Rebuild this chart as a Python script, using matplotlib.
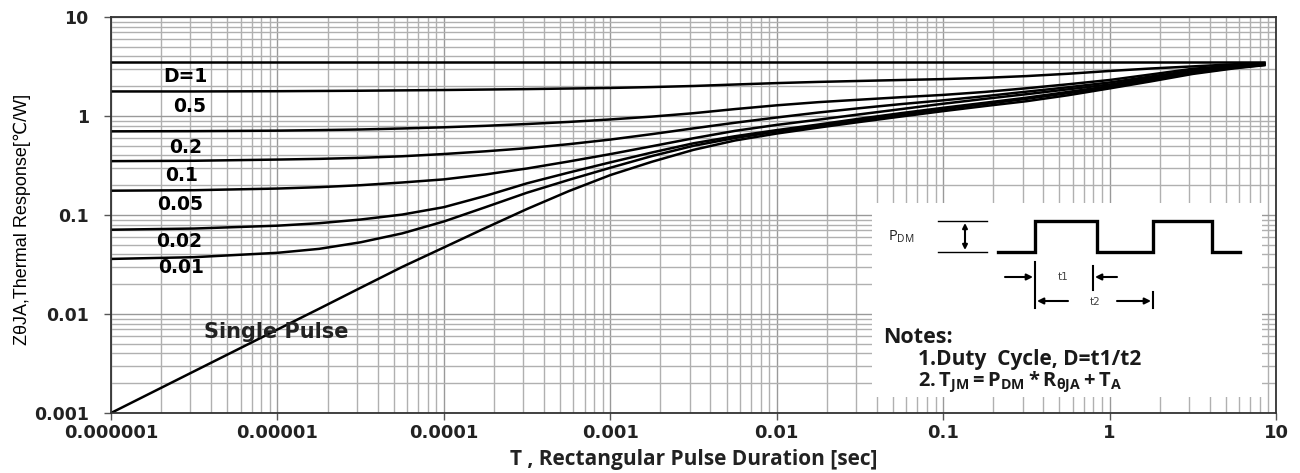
import matplotlib.pyplot as plt
from matplotlib.ticker import FixedLocator, LogLocator, NullFormatter

# pulse duration sample points (sec)
T_SEC = [1e-6, 3.16e-6, 1e-5, 1.78e-5, 3.16e-5, 5.62e-5, 1e-4, 1.78e-4, 3.16e-4,
         5.62e-4, 1e-3, 1.78e-3, 3.16e-3, 5.62e-3, 1e-2, 1.78e-2, 3.16e-2, 5.62e-2,
         0.1, 0.178, 0.316, 0.562, 1, 1.78, 3.16, 5.62, 8.5]

# thermal response (C/W)
Z_D1 = [3.5, 3.5, 3.5, 3.5, 3.5, 3.5, 3.5, 3.5, 3.5, 3.5, 3.5, 3.5, 3.5, 3.5,
        3.5, 3.5, 3.5, 3.5, 3.5, 3.5, 3.5, 3.5, 3.5, 3.5, 3.5, 3.5, 3.5]
Z_D05 = [1.77, 1.77, 1.78, 1.79, 1.80, 1.815, 1.83, 1.85, 1.87, 1.895, 1.92, 1.96,
         2.01, 2.08, 2.15, 2.21, 2.26, 2.31, 2.36, 2.43, 2.53, 2.67, 2.85, 3.02,
         3.17, 3.33, 3.42]
Z_D02 = [0.70, 0.703, 0.711, 0.72, 0.731, 0.748, 0.769, 0.796, 0.83, 0.871, 0.923, 0.986,
         1.067, 1.175, 1.282, 1.38, 1.462, 1.549, 1.633, 1.75, 1.905, 2.09, 2.31, 2.63,
         3.00, 3.24, 3.38]
Z_D01 = [0.35, 0.353, 0.363, 0.369, 0.378, 0.392, 0.413, 0.44, 0.473, 0.519, 0.578, 0.656,
         0.75, 0.855, 0.966, 1.084, 1.20, 1.32, 1.44, 1.585, 1.76, 1.95, 2.18, 2.51,
         2.88, 3.18, 3.35]
Z_D005 = [0.176, 0.178, 0.185, 0.191, 0.20, 0.213, 0.229, 0.257, 0.295, 0.347, 0.412, 0.495,
          0.596, 0.708, 0.813, 0.918, 1.04, 1.175, 1.33, 1.49, 1.66, 1.86, 2.08, 2.43,
          2.82, 3.13, 3.32]
Z_D002 = [0.071, 0.073, 0.078, 0.0826, 0.090, 0.101, 0.120, 0.156, 0.209, 0.268, 0.340, 0.428,
          0.530, 0.625, 0.72, 0.82, 0.94, 1.07, 1.21, 1.36, 1.53, 1.75, 2.00, 2.36,
          2.77, 3.10, 3.30]
Z_D001 = [0.036, 0.0375, 0.0415, 0.0455, 0.053, 0.0652, 0.086, 0.12, 0.168, 0.226, 0.30, 0.394,
          0.50, 0.60, 0.695, 0.79, 0.905, 1.03, 1.17, 1.32, 1.49, 1.70, 1.95, 2.31,
          2.72, 3.07, 3.28]
Z_SINGLE = [0.001, 0.00264, 0.00697, 0.0113, 0.0184, 0.0299, 0.047, 0.074, 0.115, 0.174,
            0.253, 0.345, 0.455, 0.566, 0.665, 0.764, 0.871, 0.989, 1.12, 1.26, 1.41, 1.62,
            1.90, 2.24, 2.66, 3.03, 3.26]

CURVES = [Z_D1, Z_D05, Z_D02, Z_D01, Z_D005, Z_D002, Z_D001, Z_SINGLE]
CURVE_LABELS = ["D=1", "0.5", "0.2", "0.1", "0.05", "0.02", "0.01"]

X_TICKS = [1e-6, 1e-5, 1e-4, 1e-3, 1e-2, 1e-1, 1, 10]
X_TICK_LABELS = ["0.000001", "0.00001", "0.0001", "0.001", "0.01", "0.1", "1", "10"]
Y_TICKS = [0.001, 0.01, 0.1, 1, 10]
Y_TICK_LABELS = ["0.001", "0.01", "0.1", "1", "10"]

plt.rcParams['mathtext.fontset'] = 'custom'
plt.rcParams['mathtext.rm'] = 'Open Sans'
plt.rcParams['mathtext.bf'] = 'Open Sans:bold'
plt.rcParams['mathtext.it'] = 'Open Sans:italic'

W, H = 1300, 473
fig = plt.figure(figsize=(W / 100, H / 100), dpi=100)
ax = fig.add_axes([111 / W, 1 - 413 / H, (1276 - 111) / W, (413 - 17) / H])

for z in CURVES:
    ax.plot(T_SEC, z, color='black', lw=1.8, solid_joinstyle='round')

ax.set_xscale('log')
ax.set_yscale('log')
ax.set_xlim(1e-6, 10)
ax.set_ylim(1e-3, 10)

ax.xaxis.set_major_locator(FixedLocator(X_TICKS))
ax.set_xticklabels(X_TICK_LABELS)
ax.yaxis.set_major_locator(FixedLocator(Y_TICKS))
ax.set_yticklabels(Y_TICK_LABELS)
for axis in (ax.xaxis, ax.yaxis):
    axis.set_minor_locator(LogLocator(base=10, subs=range(2, 10), numticks=20))
    axis.set_minor_formatter(NullFormatter())

ax.grid(True, which='major', color='#999999', lw=1.0)
ax.grid(True, which='minor', color='#b0b0b0', lw=1.0)
ax.set_axisbelow(True)

ax.tick_params(which='major', length=5, width=1, color='#555555',
               labelsize=13, labelcolor='#222222')
ax.tick_params(axis='x', which='major', pad=3)
ax.tick_params(axis='y', which='major', pad=11, labelsize=12.5)
ax.tick_params(which='minor', length=0)
for lab in ax.get_xticklabels() + ax.get_yticklabels():
    lab.set_fontweight('bold')
    lab.set_family('DejaVu Sans')

for s in ax.spines.values():
    s.set_color('#333333')
    s.set_linewidth(1.3)

# curve labels
label_pos = [(2.78e-6, 2.48), (2.98e-6, 1.26), (2.82e-6, 0.486), (2.67e-6, 0.248),
             (2.6e-6, 0.129), (2.56e-6, 0.0546), (2.63e-6, 0.0292)]
for txt, (lx, ly) in zip(CURVE_LABELS, label_pos):
    ax.text(lx, ly, txt, ha='center', va='center', fontsize=13.5,
            fontweight='bold', family='DejaVu Sans', color='black')
ax.text(9.9e-6, 0.00658, "Single Pulse", ha='center', va='center', fontsize=15,
        fontweight='bold', family='DejaVu Sans', color='#222222')

ax.set_xlabel("T , Rectangular Pulse Duration [sec]", fontsize=15,
              fontweight='bold', family='Open Sans', color='#222222', labelpad=5)

fig.text(22 / W, 1 - 219 / H, "Z\u03b8JA,Thermal Response[\u2103/W]", rotation=90,
         ha='center', va='center', fontsize=13,
         family=['Liberation Sans', 'DejaVu Sans'], color='black')

# notes box with pulse diagram
ins = fig.add_axes([872 / W, 1 - 397 / H, (1262 - 872) / W, (397 - 203) / H])
ins.set_xlim(872, 1262)
ins.set_ylim(397, 203)
ins.set_facecolor('white')
ins.set_xticks([])
ins.set_yticks([])
for s in ins.spines.values():
    s.set_visible(False)

ins.text(888, 237, r"P$_{\mathrm{DM}}$", fontsize=10.5, va='center', ha='left',
         family='Open Sans', color='#222222')
ins.plot([938, 987], [221, 221], color='black', lw=1.0)
ins.plot([938, 987], [252, 252], color='black', lw=1.0)
ins.annotate('', xy=(965, 223), xytext=(965, 250),
             arrowprops=dict(arrowstyle='<|-|>', color='black', lw=1.5,
                             mutation_scale=7, shrinkA=0, shrinkB=0))
ins.plot([998, 1035, 1035, 1097, 1097, 1153, 1153, 1212, 1212, 1240],
         [252, 252, 221, 221, 252, 252, 221, 221, 252, 252],
         color='black', lw=2.4, solid_joinstyle='miter')

ins.plot([1035, 1035], [262, 308], color='black', lw=1.5)
ins.plot([1093, 1093], [266, 290], color='black', lw=1.5)
ins.plot([1153, 1153], [292, 308], color='black', lw=1.5)
arrow = dict(arrowstyle='-|>', color='black', lw=1.5, mutation_scale=9,
             shrinkA=0, shrinkB=0)
ins.annotate('', xy=(1033, 277), xytext=(1005, 277), arrowprops=arrow)
ins.annotate('', xy=(1095, 277), xytext=(1117, 277), arrowprops=arrow)
ins.annotate('', xy=(1037, 301), xytext=(1068, 301), arrowprops=arrow)
ins.annotate('', xy=(1151, 301), xytext=(1117, 301), arrowprops=arrow)
ins.text(1063, 277, "t1", fontsize=7.5, ha='center', va='center', color='#444444')
ins.text(1095, 302, "t2", fontsize=7.5, ha='center', va='center', color='#444444')

ins.text(883, 337, "Notes:", fontsize=15.5, fontweight='bold', family='Open Sans',
         ha='left', va='center', color='#1a1a1a')
ins.text(918, 359, "1.Duty  Cycle, D=t1/t2", fontsize=15, fontweight='bold',
         family='Open Sans', ha='left', va='center', color='#1a1a1a')
ins.text(918, 382, r"$\mathbf{2.T_{JM} = P_{DM}*R_{\theta JA} + T_{A}}$",
         fontsize=14.5, ha='left', va='center', color='#1a1a1a')

fig.savefig("out.png", dpi=100)
